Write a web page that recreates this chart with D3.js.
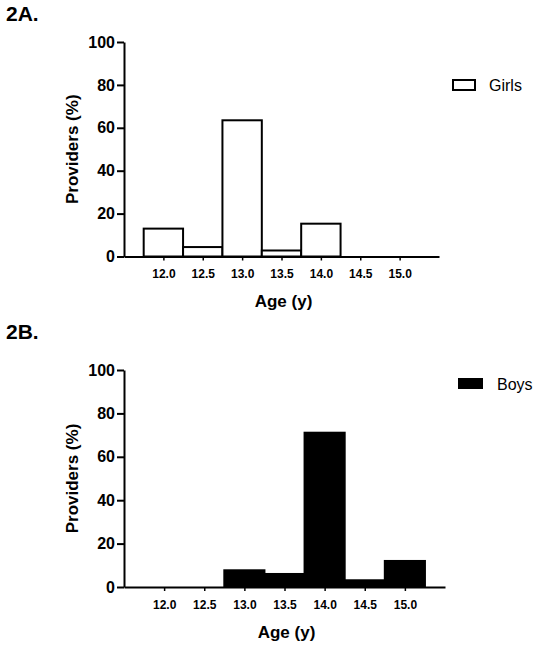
<!DOCTYPE html>
<html>
<head>
<meta charset="utf-8">
<script src="https://cdn.jsdelivr.net/npm/d3@7"></script>
<style>
  html, body { margin: 0; padding: 0; background: #fff; }
  svg { display: block; }
  text { font-family: "Liberation Sans", Arial, sans-serif; fill: #000; }
</style>
</head>
<body>
<svg id="chart" width="540" height="653"></svg>
<script>
// Data
const ages = [12.0, 12.5, 13.0, 13.5, 14.0, 14.5, 15.0];
const tickLabels = ["12.0", "12.5", "13.0", "13.5", "14.0", "14.5", "15.0"];
const girls = [13.0, 4.4, 63.5, 2.8, 15.3, 0, 0];
const boys = [0, 0, 7.7, 6.0, 71.1, 3.1, 12.0];
const yTicks = [0, 20, 40, 60, 80, 100];

const svg = d3.select("#chart");

const panels = [
  { title: "2A.", titleY: 21, values: girls, name: "Girls", fill: "#fff",
    top: 42, bottom: 256.5, left: 124, right: 439,
    legend: { x: 453, y: 80, w: 22, h: 10, tx: 489, ty: 91 }, xTitleY: 307 },
  { title: "2B.", titleY: 339, values: boys, name: "Boys", fill: "#000",
    top: 370, bottom: 587, left: 124, right: 445,
    legend: { x: 459, y: 379, w: 23, h: 9, tx: 497, ty: 390 }, xTitleY: 638 }
];

panels.forEach(p => {
  const g = svg.append("g");
  const x = d3.scaleLinear().domain([11.5, 15.5]).range([p.left, p.right]);
  const y = d3.scaleLinear().domain([0, 100]).range([p.bottom, p.top]);
  const bw = x(12.5) - x(12.0);

  // panel title
  g.append("text").attr("x", 6).attr("y", p.titleY)
    .attr("font-size", 21).attr("font-weight", "bold").text(p.title);

  // bars
  g.selectAll("rect.bar").data(ages.map((a, i) => ({ a, v: p.values[i] })).filter(d => d.v > 0))
    .enter().append("rect").attr("class", "bar")
    .attr("x", d => x(d.a) - bw / 2)
    .attr("width", bw)
    .attr("y", d => y(d.v))
    .attr("height", d => y(0) - y(d.v))
    .attr("fill", p.fill)
    .attr("stroke", "#000")
    .attr("stroke-width", 2);

  // y axis
  const ya = g.append("g").attr("transform", `translate(${p.left},0)`)
    .call(d3.axisLeft(y).tickValues(yTicks).tickSize(7).tickPadding(2).tickSizeOuter(0));
  ya.select(".domain").attr("stroke-width", 2);
  ya.selectAll(".tick line").attr("stroke-width", 2);
  ya.selectAll(".tick text").attr("font-size", 16).attr("font-weight", "bold")
    .attr("font-family", "'Liberation Sans', Arial, sans-serif");

  // x axis
  const xa = g.append("g").attr("transform", `translate(0,${p.bottom})`)
    .call(d3.axisBottom(x).tickValues(ages).tickFormat((d, i) => tickLabels[i])
      .tickSize(4).tickPadding(9).tickSizeOuter(0));
  xa.select(".domain").attr("stroke-width", 2);
  xa.selectAll(".tick line").attr("stroke-width", 1.5);
  xa.selectAll(".tick text").attr("font-size", 12).attr("font-weight", "bold")
    .attr("font-family", "'Liberation Sans', Arial, sans-serif");

  // axis titles
  g.append("text")
    .attr("transform", `translate(78,${(p.top + p.bottom) / 2}) rotate(-90)`)
    .attr("text-anchor", "middle").attr("font-size", 17).attr("font-weight", "bold")
    .text("Providers (%)");
  g.append("text").attr("x", (p.left + p.right) / 2 + 2).attr("y", p.xTitleY)
    .attr("text-anchor", "middle").attr("font-size", 17).attr("font-weight", "bold")
    .text("Age (y)");

  // legend
  g.append("rect").attr("x", p.legend.x).attr("y", p.legend.y)
    .attr("width", p.legend.w).attr("height", p.legend.h)
    .attr("fill", p.fill).attr("stroke", "#000").attr("stroke-width", 2);
  g.append("text").attr("x", p.legend.tx).attr("y", p.legend.ty)
    .attr("font-size", 16).text(p.name);
});
</script>
</body>
</html>
